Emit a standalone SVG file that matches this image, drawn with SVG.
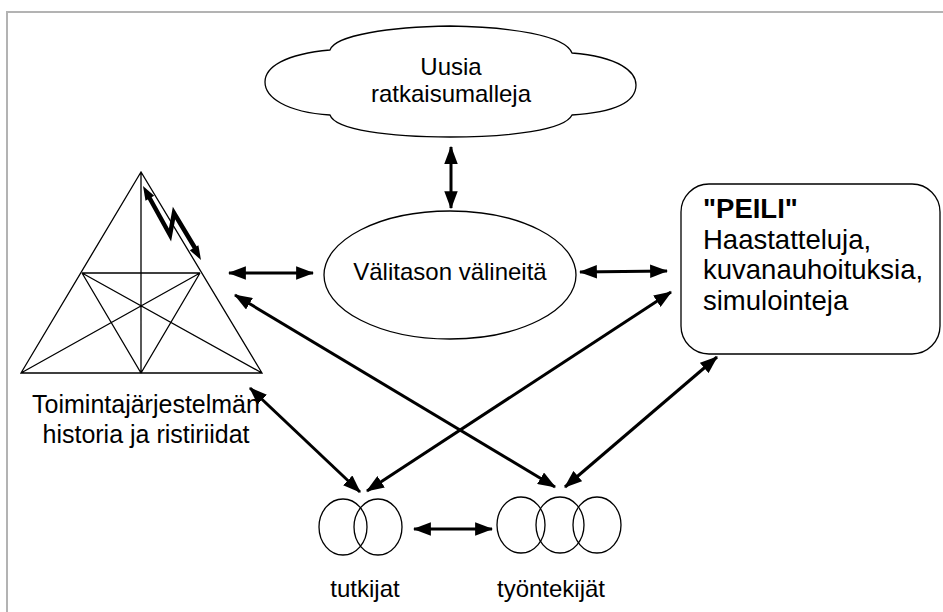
<svg xmlns="http://www.w3.org/2000/svg" width="943" height="612" viewBox="0 0 943 612">
<defs>
<marker id="ah" viewBox="0 0 16 12" refX="15" refY="6" markerWidth="6" markerHeight="4.5" markerUnits="strokeWidth" orient="auto-start-reverse">
<path d="M0,0 L16,6 L0,12 Z" fill="#000"/>
</marker>
<style>
.t{font-family:"Liberation Sans",Arial,sans-serif;font-size:24px;fill:#000}
.p{font-size:27.5px}
.s{fill:none;stroke:#000;stroke-width:1.3}
.a{fill:none;stroke:#000;stroke-width:3;marker-start:url(#ah);marker-end:url(#ah)}
</style>
</defs>
<rect x="0" y="0" width="943" height="612" fill="#fff"/>
<rect x="7" y="12" width="950" height="620" fill="none" stroke="#b3b3b3" stroke-width="2"/>
<g id="cloud">
<path class="s" d="M330,50 C335,35 390,27 450,26 C510,27 565,35 572,53 C620,57 636,72 636,85 C636,100 620,112 572,115 C565,130 510,137 450,137 C390,137 335,130 330,115 C285,112 265,97 265,82 C265,67 285,54 330,50 Z"/>
<text class="t" x="451" y="75" text-anchor="middle">Uusia</text>
<text class="t" x="451" y="102" text-anchor="middle">ratkaisumalleja</text>
</g>
<g id="triangle">
<path class="s" d="M141,172 L21,373 L262,373 Z M141,172 L141,373 M82,273 L200,273 M82,273 L141,373 L200,273 M82,273 L262,373 M200,273 L21,373"/>
<polyline points="149,197 170,235 174,213 195,248" fill="none" stroke="#000" stroke-width="4.5"/>
<path d="M143,186 L154.2,195.8 L145.5,200.7 Z" fill="#000"/>
<path d="M201,260 L189.8,250.2 L198.4,245.3 Z" fill="#000"/>
<text class="t" x="146" y="413" text-anchor="middle" style="font-size:25px">Toimintajärjestelmän</text>
<text class="t" x="146" y="443" text-anchor="middle" style="font-size:25px">historia ja ristiriidat</text>
</g>
<g id="ellipse">
<ellipse class="s" cx="450" cy="275" rx="126" ry="64"/>
<text class="t" x="450" y="280" text-anchor="middle">Välitason välineitä</text>
</g>
<g id="peili">
<rect class="s" x="681" y="184" width="259" height="170" rx="28"/>
<text class="t p" x="703" y="218" font-weight="bold">"PEILI"</text>
<text class="t p" x="703" y="249">Haastatteluja,</text>
<text class="t p" x="703" y="279">kuvanauhoituksia,</text>
<text class="t p" x="703" y="310">simulointeja</text>
</g>
<g id="tutkijat">
<ellipse class="s" cx="343" cy="527" rx="24" ry="28"/>
<ellipse class="s" cx="378" cy="527" rx="24" ry="28"/>
<text class="t" x="365" y="597" text-anchor="middle">tutkijat</text>
</g>
<g id="tyontekijat">
<ellipse class="s" cx="521" cy="525" rx="24" ry="28"/>
<ellipse class="s" cx="560" cy="525" rx="24" ry="28"/>
<ellipse class="s" cx="597" cy="525" rx="24" ry="28"/>
<text class="t" x="551" y="597" text-anchor="middle">työntekijät</text>
</g>
<g id="connectors">
<line class="a" x1="451" y1="147" x2="451" y2="208"/>
<line class="a" x1="229" y1="273" x2="313" y2="273"/>
<line class="a" x1="580" y1="272" x2="667" y2="271"/>
<line class="a" x1="250" y1="388" x2="360" y2="492"/>
<line class="a" x1="671" y1="292" x2="367" y2="491"/>
<line class="a" x1="235" y1="295" x2="555" y2="487"/>
<line class="a" x1="717" y1="357" x2="565" y2="487"/>
<line class="a" x1="414" y1="529" x2="492" y2="529"/>
</g>
</svg>
